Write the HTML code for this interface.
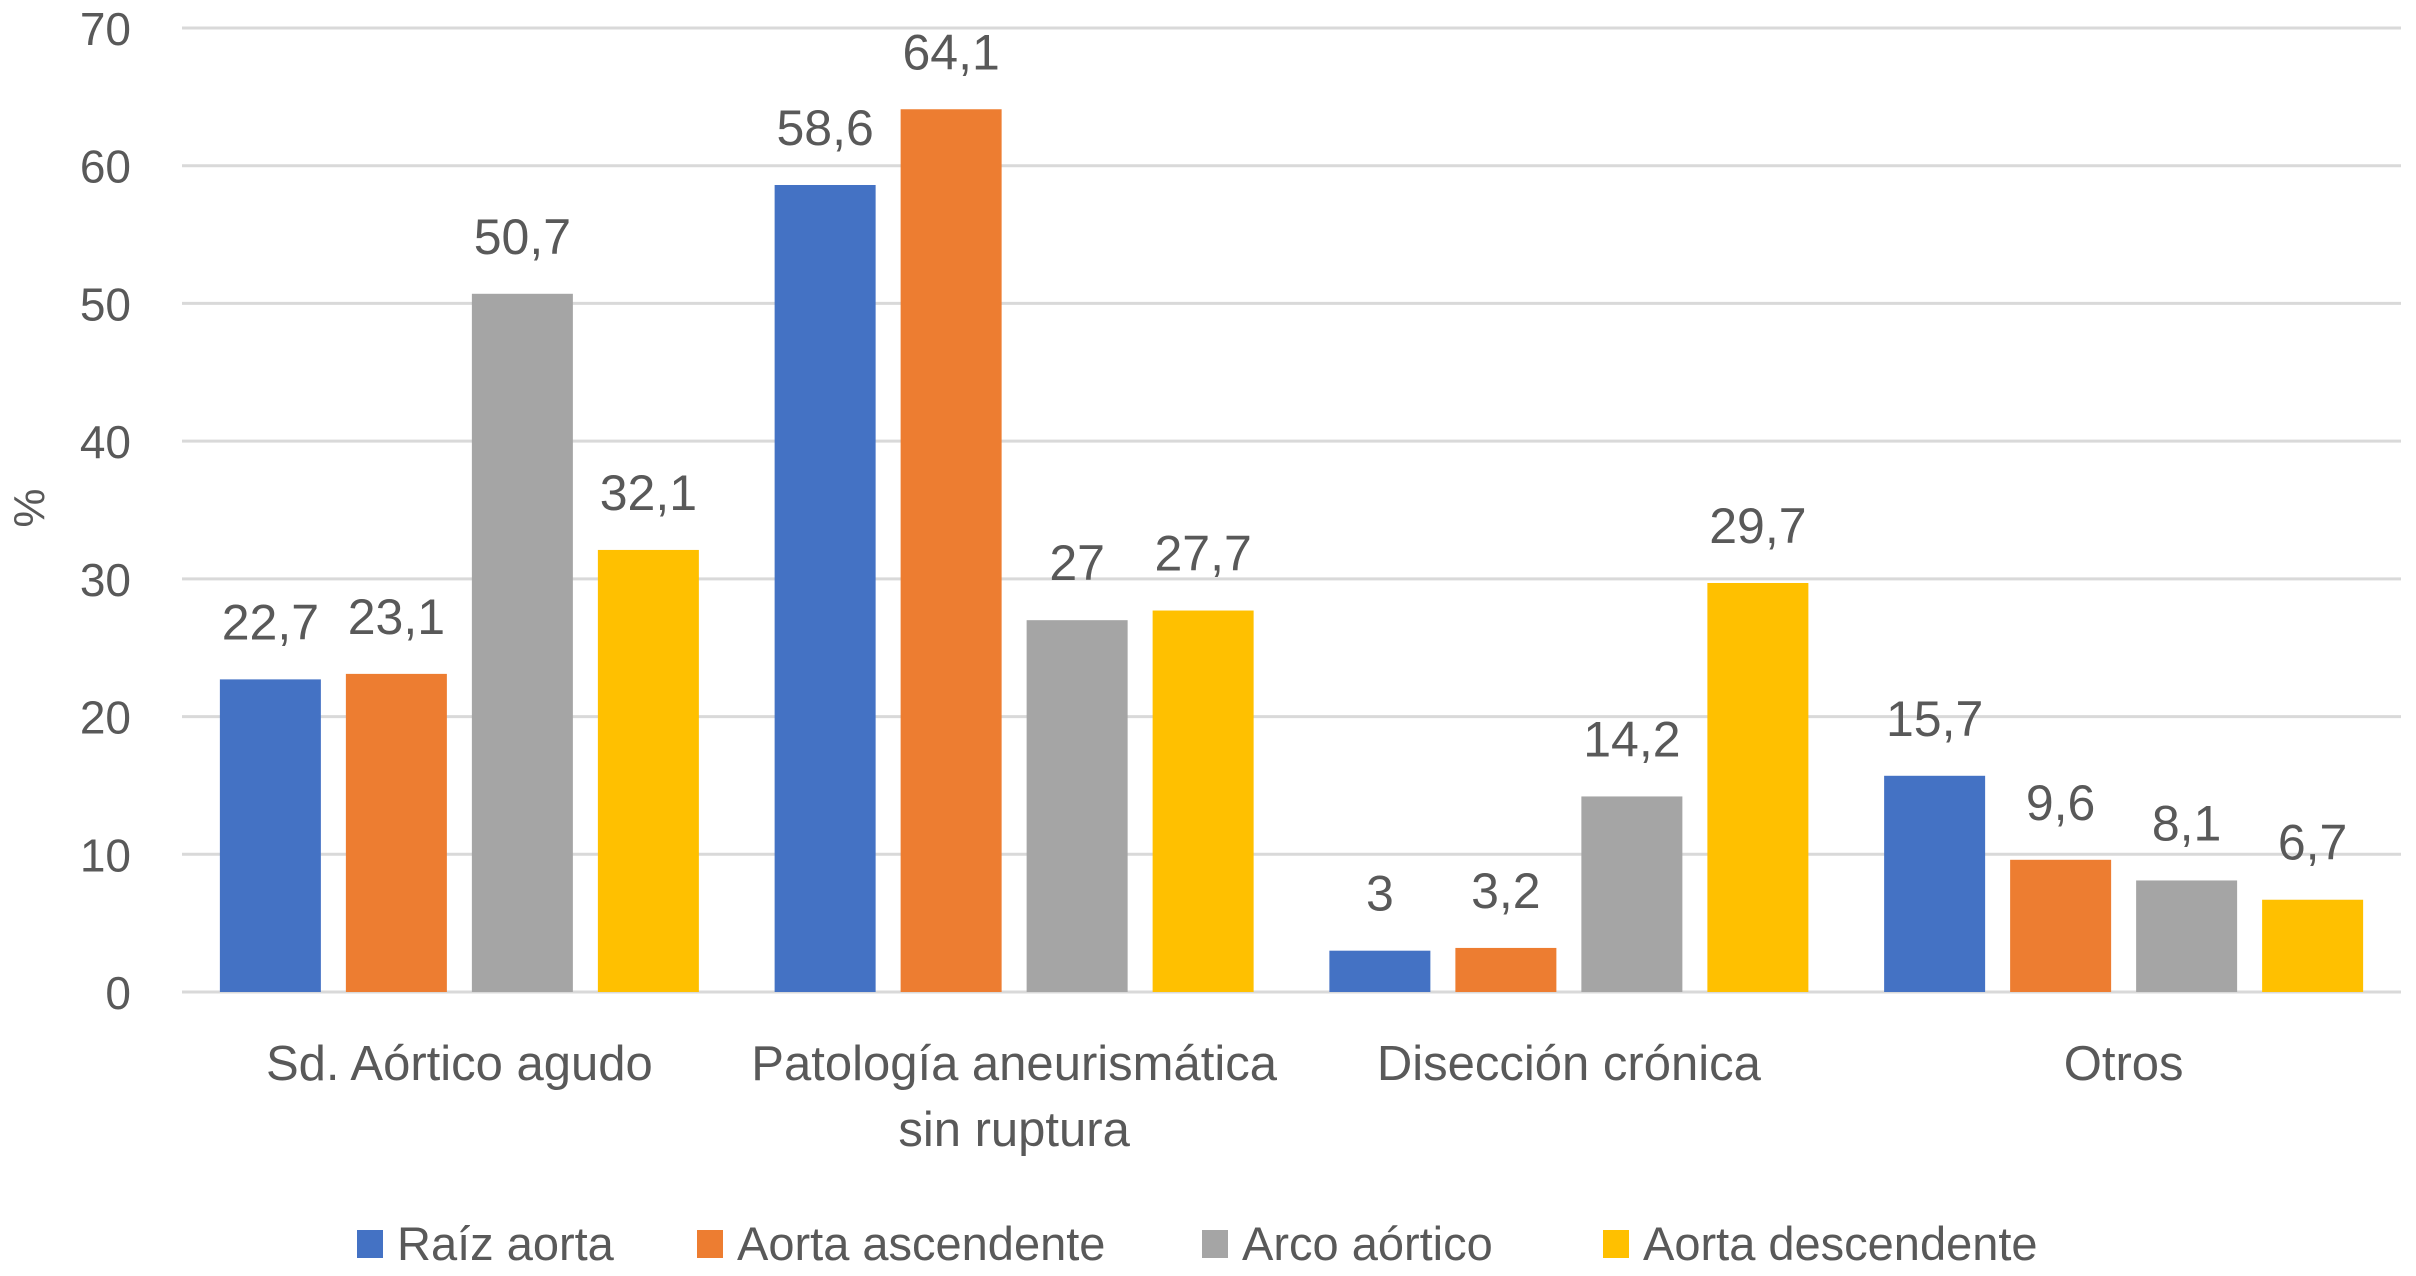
<!DOCTYPE html>
<html><head><meta charset="utf-8"><style>
html,body{margin:0;padding:0;background:#fff;}
svg{display:block;}
text{font-family:"Liberation Sans",sans-serif;fill:#595959;}
</style></head><body>
<svg id="chart" width="2416" height="1276" viewBox="0 0 2416 1276"></svg>
<script>
const categories = [["Sd. Aórtico agudo"], ["Patología aneurismática", "sin ruptura"], ["Disección crónica"], ["Otros"]];
const seriesNames = ["Raíz aorta", "Aorta ascendente", "Arco aórtico", "Aorta descendente"];
const raizAorta = [22.7, 58.6, 3, 15.7];
const aortaAscendente = [23.1, 64.1, 3.2, 9.6];
const arcoAortico = [50.7, 27, 14.2, 8.1];
const aortaDescendente = [32.1, 27.7, 29.7, 6.7];
const yTicks = [0, 10, 20, 30, 40, 50, 60, 70];
const seriesLabels = [["22,7","58,6","3","15,7"],["23,1","64,1","3,2","9,6"],["50,7","27","14,2","8,1"],["32,1","27,7","29,7","6,7"]];

const colors = ["#4472c4", "#ed7d31", "#a5a5a5", "#ffc000"];
const series = [raizAorta, aortaAscendente, arcoAortico, aortaDescendente];
const svg = document.getElementById('chart');
const NS = "http://www.w3.org/2000/svg";
const X0 = 182, X1 = 2401, Y0 = 992, Y70 = 28;
const y = v => Y0 - (v / 70) * (Y0 - Y70);
const catW = (X1 - X0) / categories.length;
const barW = 101, pitch = 126;
const barX = (ci, si) => X0 + catW * ci + catW / 2 - 2 * pitch + (pitch - barW) / 2 + si * pitch;
function mk(tag, attrs, parent) { const e = document.createElementNS(NS, tag); for (const k in attrs) e.setAttribute(k, attrs[k]); (parent || svg).appendChild(e); return e; }

yTicks.forEach(t => {
  const g = mk('line', {x1: X0, x2: X1, y1: y(t), y2: y(t), stroke: '#d9d9d9', 'stroke-width': 3});
  
  
  const l = mk('text', {x: 131, y: y(t) + 17, 'text-anchor': 'end', 'font-size': 46});
  l.textContent = t;
  
  
});
const yt = mk('text', {x: 0, y: 0, 'text-anchor': 'middle', 'font-size': 44, transform: 'translate(44,508) rotate(-90)'});
yt.textContent = '%';



series.forEach((vals, si) => {
  vals.forEach((v, ci) => {
    const x = barX(ci, si);
    const r = mk('rect', {x: x, y: y(v), width: barW, height: Y0 - y(v), fill: colors[si]});
    
    
    const t = mk('text', {x: x + barW / 2, y: y(v) - 40, 'text-anchor': 'middle', 'font-size': 50, fill: '#404040'});
    t.textContent = seriesLabels[si][ci];
    
    
  });
});

categories.forEach((lines, ci) => {
  lines.forEach((ln, li) => {
    const t = mk('text', {x: X0 + catW * ci + catW / 2, y: 1080 + li * 66, 'text-anchor': 'middle', 'font-size': 49});
    t.textContent = ln;
    
    
  });
});

const legX = [357, 697, 1202, 1603];
seriesNames.forEach((n, si) => {
  const r = mk('rect', {x: legX[si], y: 1230, width: 26, height: 28, fill: colors[si]});
  
  
  const t = mk('text', {x: legX[si] + 40, y: 1260, 'font-size': 47});
  t.textContent = n;
  
  
});
</script>
</body></html>
